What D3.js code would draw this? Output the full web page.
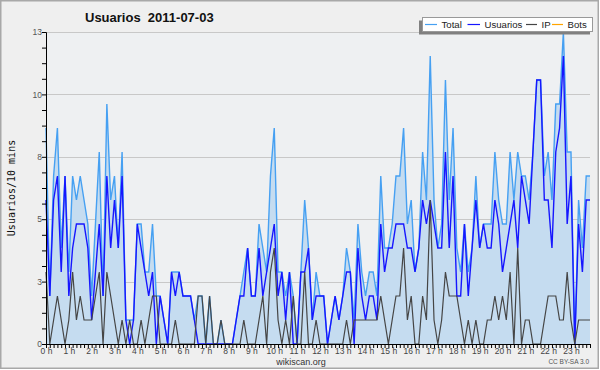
<!DOCTYPE html>
<html>
<head>
<meta charset="utf-8">
<script src="https://cdn.jsdelivr.net/npm/d3@7"></script>
<style>
  body { margin: 0; background: #fff; }
  svg { display: block; }
</style>
</head>
<body>
<div id="chart"></div>
<script>
const title = "Usuarios  2011-07-03";
const yTitle = "Usuarios/10 mins";
const seriesNames = ["Total", "Usuarios", "IP", "Bots"];
const seriesColors = ["#46a0f2", "#1616ff", "#454545", "#ffa500"];

// one value per 10 minutes, 0 h .. 23 h 50
const total = [
  9, 2, 7, 9, 4, 7, 3, 7, 6, 7, 6, 5, 2, 5, 8, 2, 10, 6, 7, 4, 8, 1, 1, 1,
  5, 5, 3, 3, 5, 2, 2, 1, 0, 3, 3, 3, 2, 2, 2, 1, 2, 2, 0, 2, 0, 0, 1, 0,
  0, 0, 1, 2, 3, 4, 2, 2, 5, 4, 3, 7, 9, 3, 3, 2, 3, 2, 0, 3, 6, 4, 1, 3,
  2, 2, 0, 1, 2, 1, 2, 4, 3, 1, 5, 3, 2, 3, 3, 2, 7, 4, 4, 5, 7, 7, 9, 5,
  6, 3, 4, 8, 6, 12, 6, 4, 5, 11, 6, 9, 4, 3, 5, 3, 4, 7, 4, 5, 5, 5, 8, 6,
  5, 5, 8, 6, 8, 7, 7, 6, 8, 11, 11, 7, 8, 6, 10, 10, 13, 8, 8, 0, 6, 4, 7, 7
];
const usuarios = [
  6, 2, 6, 7, 3, 7, 2, 4, 5, 5, 5, 4, 1, 3, 5, 2, 7, 4, 6, 4, 7, 1, 0, 1,
  5, 4, 3, 2, 3, 0, 2, 1, 0, 3, 2, 3, 2, 2, 2, 1, 0, 0, 0, 0, 0, 0, 0, 0,
  0, 0, 1, 2, 2, 4, 2, 2, 4, 2, 3, 4, 5, 2, 3, 1, 3, 0, 0, 3, 3, 4, 1, 2,
  2, 2, 0, 1, 2, 1, 2, 3, 3, 0, 4, 2, 1, 2, 2, 1, 5, 3, 4, 4, 5, 5, 5, 4,
  4, 3, 4, 6, 5, 6, 5, 4, 4, 8, 4, 7, 2, 2, 5, 2, 4, 6, 4, 5, 4, 4, 6, 5,
  3, 4, 5, 6, 4, 7, 6, 5, 8, 11, 11, 6, 6, 4, 8, 9, 12, 5, 7, 0, 5, 3, 6, 6
];
const ip = [
  3, 0, 1, 2, 1, 0, 1, 3, 1, 2, 1, 1, 1, 2, 3, 0, 3, 2, 1, 0, 1, 0, 1, 0,
  0, 1, 0, 1, 2, 2, 0, 0, 0, 0, 1, 0, 0, 0, 0, 0, 2, 2, 0, 2, 0, 0, 1, 0,
  0, 0, 0, 0, 1, 0, 0, 0, 1, 2, 0, 3, 4, 1, 0, 1, 0, 2, 0, 0, 3, 0, 0, 1,
  0, 0, 0, 0, 0, 0, 0, 1, 0, 1, 1, 1, 1, 1, 1, 1, 2, 1, 0, 1, 2, 2, 4, 1,
  2, 0, 0, 2, 1, 6, 1, 0, 1, 3, 2, 2, 2, 1, 0, 1, 0, 1, 0, 0, 1, 1, 2, 1,
  2, 1, 3, 0, 4, 0, 1, 1, 0, 0, 0, 1, 2, 2, 2, 1, 1, 3, 1, 0, 1, 1, 1, 1
];
const hourLabels = ["0 h", "1 h", "2 h", "3 h", "4 h", "5 h", "6 h", "7 h", "8 h", "9 h", "10 h", "11 h",
  "12 h", "13 h", "14 h", "15 h", "16 h", "17 h", "18 h", "19 h", "20 h", "21 h", "22 h", "23 h"];
const yTicks = [0, 2.6, 5.2, 7.8, 10.4, 13];

const width = 600, height = 370;
const plotLeft = 46, plotRight = 590, plotTop = 32, plotBottom = 344;

const svg = d3.select("#chart").append("svg")
  .attr("width", width)
  .attr("height", height)
  .style("font-family", "'Liberation Sans', Arial, sans-serif");

svg.append("rect")
  .attr("x", 0.75).attr("y", 0.75)
  .attr("width", 597.5).attr("height", 367.5)
  .attr("fill", "#efefef")
  .attr("stroke", "#a8a8a8")
  .attr("stroke-width", 1.5);

const x = d3.scaleLinear().domain([0, total.length - 1]).range([plotLeft, plotRight]);
const y = d3.scaleLinear().domain([0, 13]).range([plotBottom, plotTop]);

svg.append("rect")
  .attr("x", plotLeft).attr("y", plotTop)
  .attr("width", plotRight - plotLeft).attr("height", plotBottom - plotTop)
  .attr("fill", "#eef0f2");

// grid
svg.append("g")
  .selectAll("line")
  .data(yTicks.slice(1))
  .join("line")
  .attr("x1", plotLeft).attr("x2", plotRight)
  .attr("y1", (d) => Math.round(y(d)) + 0.5)
  .attr("y2", (d) => Math.round(y(d)) + 0.5)
  .attr("stroke", "#c8c8c8");

// total area + lines
const area = d3.area()
  .x((d, i) => x(i))
  .y0(y(0))
  .y1((d) => y(d));

svg.append("path")
  .datum(total)
  .attr("d", area)
  .attr("fill", "#c5dcf0");

const line = d3.line().x((d, i) => x(i)).y((d) => y(d));

[[total, seriesColors[0], 1.4], [usuarios, seriesColors[1], 1.4], [ip, seriesColors[2], 1.2]]
  .forEach(([data, color, w]) => {
    svg.append("path")
      .datum(data)
      .attr("d", line)
      .attr("fill", "none")
      .attr("stroke", color)
      .attr("stroke-width", w)
      .attr("stroke-linejoin", "miter");
  });

// y axis
const yAxis = d3.axisLeft(y)
  .tickValues(d3.range(0, 13.01, 0.65))
  .tickSize(4)
  .tickFormat((d) => (yTicks.some((t) => Math.abs(t - d) < 1e-6) ? d3.format(".0f")(d) : ""));

const gy = svg.append("g")
  .attr("transform", `translate(${plotLeft},0)`)
  .call(yAxis);
gy.select(".domain").attr("stroke", "#000");
gy.selectAll(".tick line").attr("stroke", "#000");
gy.selectAll(".tick text")
  .attr("x", -4)
  .attr("fill", "#555")
  .style("font-family", "'Liberation Sans', Arial, sans-serif")
  .style("font-size", "8.5px");

// x axis
const xAxis = d3.axisBottom(x)
  .tickValues(d3.range(0, total.length))
  .tickSize(4)
  .tickFormat((d) => (d % 6 === 0 ? hourLabels[d / 6] : ""));

const gx = svg.append("g")
  .attr("transform", `translate(0,${plotBottom})`)
  .call(xAxis);
gx.select(".domain").attr("stroke", "#000").attr("d", `M${plotLeft},0.5H${plotRight}`);
gx.selectAll(".tick line").attr("stroke", "#000");
gx.selectAll(".tick text")
  .attr("y", 4)
  .attr("fill", "#444")
  .style("font-family", "'Liberation Sans', Arial, sans-serif")
  .style("font-size", "8.5px");

// titles
svg.append("text")
  .attr("x", 85).attr("y", 21.5)
  .style("white-space", "pre")
  .style("font-weight", "bold")
  .style("font-size", "13px")
  .attr("fill", "#111")
  .text(title);

svg.append("text")
  .attr("transform", "translate(15,188) rotate(-90)")
  .attr("text-anchor", "middle")
  .style("font-family", "'DejaVu Sans Mono', monospace")
  .style("font-size", "10px")
  .attr("fill", "#111")
  .text(yTitle);

svg.append("text")
  .attr("x", 301).attr("y", 365)
  .attr("text-anchor", "middle")
  .style("font-size", "9px")
  .attr("fill", "#333")
  .text("wikiscan.org");

svg.append("text")
  .attr("x", 589).attr("y", 364)
  .attr("text-anchor", "end")
  .style("font-size", "6.5px")
  .attr("fill", "#555")
  .text("CC BY-SA 3.0");

// legend
const legend = svg.append("g");
legend.append("rect")
  .attr("x", 419).attr("y", 20.5)
  .attr("width", 171).attr("height", 14)
  .attr("fill", "#808080");
legend.append("rect")
  .attr("x", 422.5).attr("y", 17.5)
  .attr("width", 170).attr("height", 14)
  .attr("fill", "#fff")
  .attr("stroke", "#999");

const legendX = [425, 467.5, 526, 552];
const legendW = [12, 12.5, 11, 11];
seriesNames.forEach((name, i) => {
  legend.append("line")
    .attr("x1", legendX[i]).attr("x2", legendX[i] + legendW[i])
    .attr("y1", 24.5).attr("y2", 24.5)
    .attr("stroke", seriesColors[i])
    .attr("stroke-width", 1.2);
  legend.append("text")
    .attr("x", legendX[i] + legendW[i] + 4.5)
    .attr("y", 28)
    .style("font-size", "9.6px")
    .attr("fill", "#222")
    .text(name);
});
</script>
</body>
</html>
